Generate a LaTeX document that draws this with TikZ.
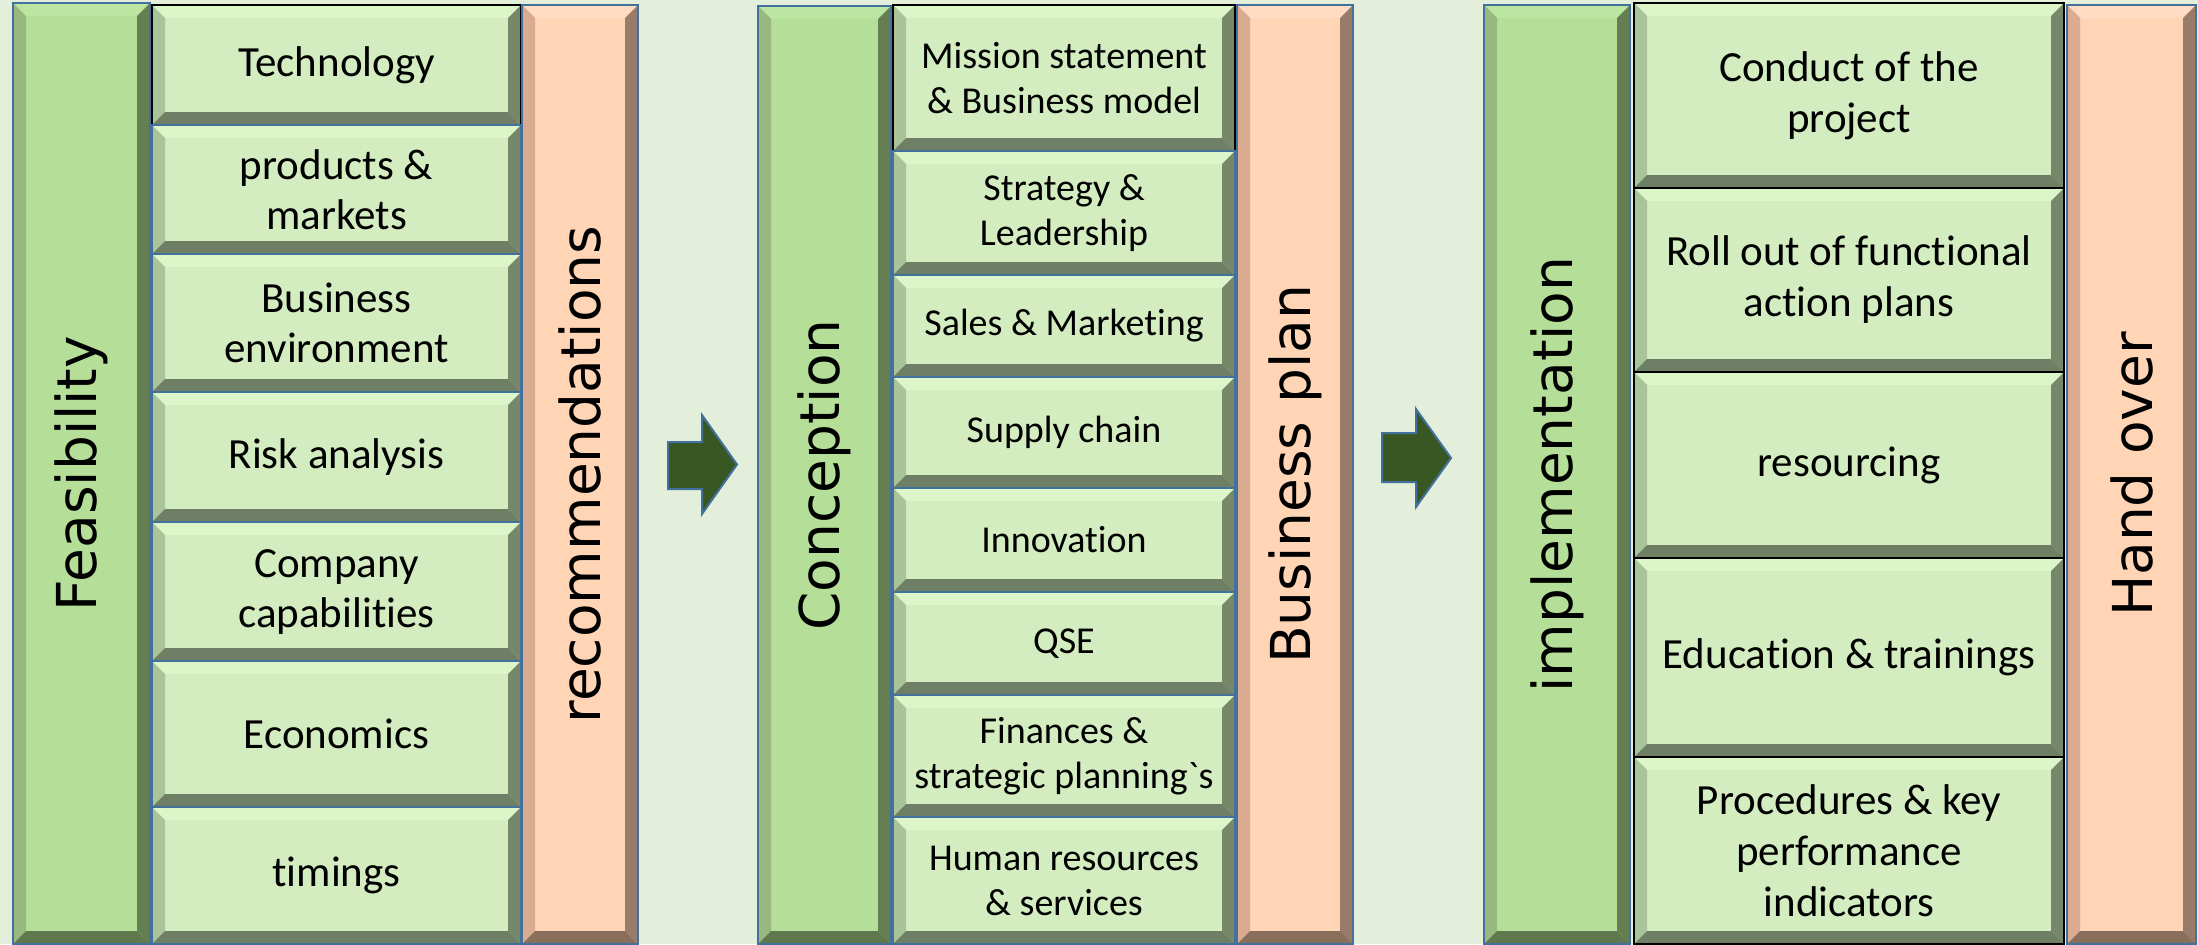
\documentclass[tikz,border=0pt]{standalone}
\usepackage{fontspec}
\setmainfont{Carlito}[Ligatures={TeXOff,NoCommon}]
\newfontfamily\labelfont{DejaVu Sans}
\usetikzlibrary{positioning}

\definecolor{bgcol}{HTML}{E3EFDA}
\definecolor{boxline}{HTML}{41719C}
\definecolor{boxface}{HTML}{D3ECC0}
\definecolor{boxtop}{HTML}{DCF6CA}
\definecolor{boxleft}{HTML}{AAC49A}
\definecolor{boxright}{HTML}{76876A}
\definecolor{boxbottom}{HTML}{6F7F65}
\definecolor{stageface}{HTML}{B5DE98}
\definecolor{stagetop}{HTML}{BDE5A2}
\definecolor{stageleft}{HTML}{98B880}
\definecolor{stageright}{HTML}{657F52}
\definecolor{stagebottom}{HTML}{5F784D}
\definecolor{resultface}{HTML}{FFD5B6}
\definecolor{resulttop}{HTML}{FFDCC3}
\definecolor{resultleft}{HTML}{DAAB91}
\definecolor{resultright}{HTML}{987B68}
\definecolor{resultbottom}{HTML}{8A6E5C}
\definecolor{arrowfill}{HTML}{385723}

\tikzset{
  bevel/.style n args={4}{path picture={
      \fill[#1] (path picture bounding box.north west) -- (path picture bounding box.north east)
        -- ([shift={(-6.5pt,-6.5pt)}]path picture bounding box.north east)
        -- ([shift={(6.5pt,-6.5pt)}]path picture bounding box.north west) -- cycle;
      \fill[#2] (path picture bounding box.north west) -- ([shift={(6.5pt,-6.5pt)}]path picture bounding box.north west)
        -- ([shift={(6.5pt,6.5pt)}]path picture bounding box.south west) -- (path picture bounding box.south west) -- cycle;
      \fill[#3] (path picture bounding box.north east) -- ([shift={(-6.5pt,-6.5pt)}]path picture bounding box.north east)
        -- ([shift={(-6.5pt,6.5pt)}]path picture bounding box.south east) -- (path picture bounding box.south east) -- cycle;
      \fill[#4] (path picture bounding box.south west) -- ([shift={(6.5pt,6.5pt)}]path picture bounding box.south west)
        -- ([shift={(-6.5pt,6.5pt)}]path picture bounding box.south east) -- (path picture bounding box.south east) -- cycle;
  }},
  itembox/.style={rectangle, draw=boxline, line width=0.75pt, fill=boxface, inner sep=0pt, outer sep=0pt,
    align=center, minimum width=#1, bevel={boxtop}{boxleft}{boxright}{boxbottom}},
  stagecol/.style={rectangle, draw=boxline, line width=0.75pt, fill=stageface, inner sep=0pt, outer sep=0pt,
    minimum width=#1, anchor=north west, bevel={stagetop}{stageleft}{stageright}{stagebottom},
    font=\labelfont\fontsize{27.5}{33}\selectfont},
  resultcol/.style={rectangle, draw=boxline, line width=0.75pt, fill=resultface, inner sep=0pt, outer sep=0pt,
    minimum width=#1, anchor=north west, bevel={resulttop}{resultleft}{resultright}{resultbottom},
    font=\labelfont\fontsize{27.5}{33}\selectfont},
  fontA/.style={font=\fontsize{21.5}{25}\selectfont},
  fontB/.style={font=\fontsize{19}{22.5}\selectfont},
  fontC/.style={font=\fontsize{21.5}{25.5}\selectfont},
  nextarrow/.style={fill=arrowfill, draw=boxline, line width=1pt}
}

\begin{document}
\begin{tikzpicture}[x=0.5pt, y=-0.5pt]
  \useasboundingbox (0,0) rectangle (2198,944);
  \fill[bgcol] (0,0) rectangle (2198,944);

  % feasibility
  \node[stagecol=68.5pt, minimum height=470.5pt] (feas) at (13,3) {\rotatebox{90}{Feasibility}};
  \node[itembox=184.5pt, fontA, draw=black, minimum height=60pt, anchor=north west] (tech) at (152,5) {Technology};
  \node[itembox=184.5pt, fontA, minimum height=64.5pt] (prod) [below=0pt of tech] {products \&\\ markets};
  \node[itembox=184.5pt, fontA, minimum height=69pt] (env) [below=0pt of prod] {Business\\ environment};
  \node[itembox=184.5pt, fontA, minimum height=65pt] (risk) [below=0pt of env] {Risk analysis};
  \node[itembox=184.5pt, fontA, minimum height=69.5pt] (capa) [below=0pt of risk] {Company\\ capabilities};
  \node[itembox=184.5pt, fontA, minimum height=73pt] (econ) [below=0pt of capa] {Economics};
  \node[itembox=184.5pt, fontA, minimum height=68.5pt] (timing) [below=0pt of econ] {timings};
  \node[resultcol=58pt, minimum height=469.5pt] (reco) at (522,5) {\rotatebox{90}{recommendations}};

  % conception
  \node[stagecol=66.5pt, minimum height=469pt] (conc) at (758,6) {\rotatebox{90}{Conception}};
  \node[itembox=171pt, fontB, draw=black, minimum height=73pt, anchor=north west] (mission) at (893,5) {Mission statement\\ \& Business model};
  \node[itembox=171pt, fontB, minimum height=62pt] (strat) [below=0pt of mission] {Strategy \&\\ Leadership};
  \node[itembox=171pt, fontB, minimum height=51pt] (sales) [below=0pt of strat] {Sales \& Marketing};
  \node[itembox=171pt, fontB, minimum height=55.5pt] (supply) [below=0pt of sales] {Supply chain};
  \node[itembox=171pt, fontB, minimum height=52pt] (innov) [below=0pt of supply] {Innovation};
  \node[itembox=171pt, fontB, minimum height=51.5pt] (qse) [below=0pt of innov] {QSE};
  \node[itembox=171pt, fontB, minimum height=61pt] (fin) [below=0pt of qse] {Finances \&\\ strategic planning`s};
  \node[itembox=171pt, fontB, minimum height=63.5pt] (hr) [below=0pt of fin] {Human resources\\ \& services};
  \node[resultcol=58pt, minimum height=469.5pt] (bplan) at (1237,5) {\rotatebox{90}{Business plan}};

  % implementation
  \node[stagecol=73pt, minimum height=469.5pt] (impl) at (1484,5) {\rotatebox{90}{implementation}};
  \node[itembox=215pt, fontC, draw=black, minimum height=92.5pt, anchor=north west] (conduct) at (1634,3) {Conduct of the\\ project};
  \node[itembox=215pt, fontC, draw=black, minimum height=92pt] (rollout) [below=0pt of conduct] {Roll out of functional\\ action plans};
  \node[itembox=215pt, fontC, draw=black, minimum height=93pt] (resource) [below=0pt of rollout] {resourcing};
  \node[itembox=215pt, fontC, draw=black, minimum height=99.5pt] (edu) [below=0pt of resource] {Education \& trainings};
  \node[itembox=215pt, fontC, draw=black, minimum height=93.5pt] (proc) [below=0pt of edu] {Procedures \& key\\ performance\\ indicators};
  \node[resultcol=64.5pt, minimum height=469.5pt] (hand) at (2067,5) {\rotatebox{90}{Hand over}};

  % arrows between stages
  \draw[nextarrow] (668,442) -- (702,442) -- (702,415) -- (737,464.5) -- (702,514) -- (702,489) -- (668,489) -- cycle;
  \draw[nextarrow] (1382,433) -- (1416,433) -- (1416,409) -- (1451,458) -- (1416,507) -- (1416,482) -- (1382,482) -- cycle;
\end{tikzpicture}
\end{document}
